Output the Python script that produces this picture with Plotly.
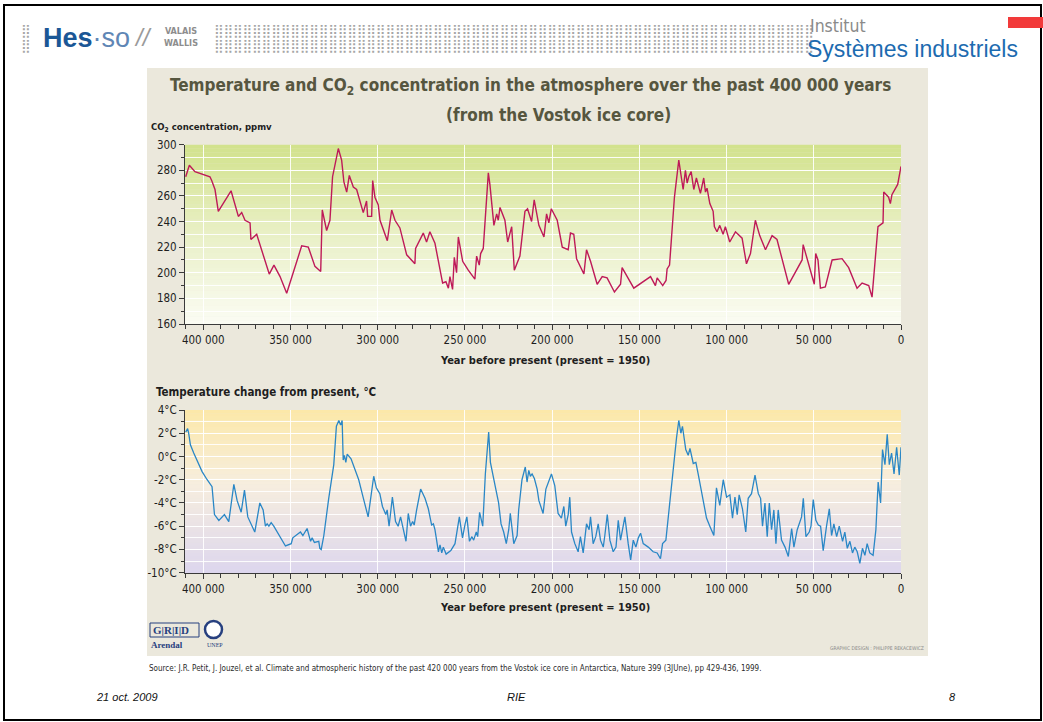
import plotly.graph_objects as go

# ---------------- data ----------------
co2_years = [410100, 408000, 404800, 400000, 396200, 395200, 393300, 391400, 384100, 379900,
             378000, 376100, 373200, 372700, 369400, 362200, 359500, 356000, 352200, 343600,
             339800, 336000, 332700, 331800, 329300, 327400, 325900, 322600, 320700, 319400,
             317800, 316300, 314000, 312100, 308300, 306400, 305800, 303500, 302900, 301600,
             299700, 298700, 294500, 292000, 290100, 287300, 283400, 278700, 278300, 273900,
             272000, 270100, 267200, 262800, 260900, 259500, 258600, 257100, 256100, 254800,
             253800, 251300, 248100, 244300, 243300, 241800, 241000, 239500, 236600, 235700,
             233400, 231800, 230900, 229900, 227100, 225500, 223200, 221700, 218500, 215600,
             214100, 211800, 210300, 207600, 204700, 203200, 201900, 200500, 197100, 194200,
             190800, 189500, 187600, 186000, 181800, 180300, 178000, 174200, 171300, 168500,
             164300, 160800, 159900, 153200, 143600, 140800, 139800, 136600, 134700, 134100,
             132700, 129900, 127400, 124900, 123600, 122600, 121700, 120300, 118800, 117300,
             115000, 113100, 112100, 111200, 109600, 107700, 107000, 105500, 103900, 102000,
             100700, 98200, 94900, 91100, 88600, 86300, 83500, 81000, 77700, 73900,
             71100, 64400, 56700, 56100, 51000, 49700, 48900, 47600, 46200, 43400,
             39500, 33800, 30000, 25200, 22300, 18500, 16600, 14100, 13200, 10300,
             9900, 7100, 6100, 5200, 1900, 0]
co2_ppmv = [275, 284, 279, 277, 275, 272, 265, 248, 264, 244,
            247, 241, 239, 226, 230, 199, 206, 197, 184, 221,
            220, 205, 201, 249, 233, 241, 275, 297, 288, 271,
            263, 276, 267, 265, 247, 256, 244, 244, 272, 259,
            253, 241, 225, 249, 241, 235, 214, 207, 219, 231,
            224, 232, 223, 192, 193, 188, 197, 187, 212, 200,
            228, 209, 202, 195, 213, 206, 215, 219, 278, 269,
            237, 246, 241, 251, 241, 224, 236, 202, 213, 248,
            250, 240, 257, 237, 228, 246, 239, 250, 241, 220,
            218, 231, 230, 211, 199, 218, 209, 191, 197, 196,
            185, 191, 204, 188, 197, 190, 196, 190, 194, 203,
            206, 259, 288, 265, 280, 270, 275, 279, 265, 274,
            262, 274, 263, 266, 254, 248, 236, 232, 237, 230,
            236, 224, 232, 227, 207, 215, 241, 229, 218, 229,
            226, 191, 210, 222, 197, 191, 215, 210, 188, 189,
            210, 211, 204, 188, 192, 190, 181, 218, 236, 239,
            263, 259, 254, 261, 269, 283]

temp_years = [410100, 409000, 408400, 407400, 405500, 402600, 400700, 397800, 395000, 393600,
              391100, 387900, 385400, 382500, 380600, 378300, 376400, 374500, 370500, 367600,
              365700, 364400, 363400, 362400, 361100, 359600, 352900, 349600, 348700, 344300,
              342900, 340500, 338500, 337600, 336300, 333800, 333200, 332400, 330900, 328100,
              325200, 323700, 322300, 321300, 320400, 319800, 319100, 318300, 317500, 315300,
              310900, 308400, 305500, 302300, 300800, 298800, 297300, 295400, 294600, 293500,
              291600, 289800, 288300, 286900, 285400, 283800, 282500, 281200, 280000, 279100,
              277700, 275400, 272900, 271000, 269100, 268100, 267200, 266200, 265200, 264300,
              263300, 262400, 260800, 258100, 255700, 253200, 251400, 249900, 248900, 247400,
              246000, 245000, 243500, 242700, 241600, 239800, 238300, 236400, 235400, 232600,
              230700, 229300, 227800, 226300, 224900, 224000, 223000, 222000, 220100, 219200,
              217300, 215400, 214400, 213400, 212500, 211500, 210200, 208600, 207600, 206300,
              205200, 203600, 201700, 200400, 198500, 196600, 194700, 193300, 192200, 190800,
              189900, 188900, 187000, 185100, 183800, 182200, 180300, 178800, 178000, 176500,
              175000, 173600, 172300, 170700, 169800, 168400, 166900, 165000, 163400, 162100,
              160800, 158300, 156400, 155000, 153500, 152000, 150600, 149300, 147800, 144900,
              142100, 139800, 137900, 136700, 134800, 132500, 130200, 128700, 127400, 126200,
              125300, 123400, 122000, 121000, 119100, 117600, 116300, 114900, 113400, 111500,
              109600, 107300, 105800, 103900, 101900, 100000, 98100, 96600, 95200, 93900,
              92800, 90900, 89000, 87600, 85700, 83700, 81800, 80500, 79400, 78000,
              76700, 75500, 74200, 72900, 71700, 70400, 68500, 66500, 64600, 62700,
              61400, 59500, 57000, 56000, 54500, 52600, 51600, 50300, 48800, 47400,
              46100, 44600, 42700, 41100, 39800, 38500, 36900, 35400, 33500, 32200,
              30800, 29300, 27800, 26500, 25100, 23600, 22100, 20700, 19400, 17900,
              16000, 14400, 13100, 11700, 10600, 9200, 7900, 6700, 5400, 4000,
              2500, 1000, 0]
temp_c = [2.1, 2.4, 2.0, 1.0, 0.3, -0.7, -1.3, -2.0, -2.6, -5.0,
          -5.5, -5.0, -5.6, -2.4, -3.8, -4.8, -2.9, -5.2, -6.5, -4.0,
          -4.6, -6.0, -5.8, -6.0, -5.7, -6.0, -7.7, -7.5, -7.0, -6.5,
          -6.8, -6.2, -7.3, -7.0, -7.4, -7.3, -7.9, -8.0, -6.8, -3.6,
          -0.7, 2.6, 3.1, 2.7, 3.1, -0.3, 0.1, -0.5, 0.2, -0.2,
          -2.0, -3.5, -5.2, -1.7, -2.7, -3.2, -4.3, -5.0, -4.6, -6.0,
          -3.5, -5.6, -6.0, -5.2, -6.2, -7.3, -4.9, -6.0, -5.6, -5.9,
          -4.6, -2.8, -3.6, -4.5, -5.9, -5.8, -6.3, -7.2, -8.2, -7.6,
          -8.3, -7.8, -8.4, -8.1, -7.5, -5.2, -7.0, -5.8, -5.2, -7.3,
          -6.9, -7.2, -6.5, -6.9, -4.8, -6.0, -1.5, 2.1, -0.5, -2.6,
          -4.0, -5.8, -6.5, -7.5, -6.3, -4.9, -6.5, -7.5, -6.8, -4.6,
          -2.0, -0.9, -2.2, -1.2, -1.7, -1.5, -1.9, -2.8, -3.8, -4.3,
          -4.9, -2.8, -2.0, -1.5, -2.5, -4.9, -5.3, -4.3, -6.0, -5.0,
          -3.5, -6.5, -7.5, -8.2, -6.9, -8.3, -5.8, -6.3, -5.2, -7.5,
          -6.9, -5.8, -7.2, -7.8, -6.8, -5.0, -7.2, -8.2, -7.8, -5.5,
          -7.2, -5.2, -7.5, -8.9, -7.2, -7.8, -7.0, -6.6, -7.5, -7.8,
          -8.2, -8.3, -8.8, -7.5, -7.2, -3.8, -0.3, 1.6, 3.1, 2.0,
          2.6, 0.6, 0.1, 0.7, -0.6, -0.5, -1.5, -2.7, -3.8, -5.3,
          -6.0, -6.8, -2.7, -4.2, -2.0, -3.5, -3.3, -5.3, -3.5, -5.0,
          -3.3, -4.5, -6.5, -3.6, -3.2, -1.6, -3.2, -3.6, -6.0, -4.0,
          -6.9, -4.0, -6.3, -4.6, -7.5, -4.6, -7.2, -7.8, -8.6, -6.2,
          -7.8, -6.3, -5.2, -3.6, -6.9, -6.5, -6.0, -3.7, -5.5, -5.9,
          -6.0, -8.1, -6.0, -4.5, -6.8, -5.8, -6.9, -6.0, -7.3, -6.5,
          -7.9, -7.3, -8.3, -7.8, -8.2, -9.2, -7.9, -8.5, -7.5, -8.3,
          -8.5, -6.3, -2.2, -4.0, 0.6, -0.7, 1.9, -0.7, 0.3, -1.5,
          0.8, -1.6, 0.8]

x_tickvals = [400000, 350000, 300000, 250000, 200000, 150000, 100000, 50000, 0]
x_ticktext = ["400 000", "350 000", "300 000", "250 000", "200 000", "150 000", "100 000", "50 000", "0"]
co2_tickvals = [160, 180, 200, 220, 240, 260, 280, 300]
temp_tickvals = [-10, -8, -6, -4, -2, 0, 2, 4]
temp_ticktext = ["-10°C", "-8°C", "-6°C", "-4°C", "-2°C", "0°C", "2°C", "4°C"]

# ---------------- geometry helpers (pixels -> paper) ----------------
W, H = 1043, 722
def px(x):
    return x / W
def py(y):
    return 1 - y / H

NARROW = "DejaVu Sans Condensed, Liberation Sans, Arial"
SANS = "Liberation Sans, Arial"

X0, X1 = 185, 901
CO2_TOP, CO2_BOT = 144.7, 324
T_TOP, T_BOT = 410, 572.7

fig = go.Figure()
fig.add_trace(go.Scatter(x=co2_years, y=co2_ppmv, mode="lines", xaxis="x", yaxis="y",
                         line=dict(color="#be1a58", width=1.4), showlegend=False, hoverinfo="skip"))
fig.add_trace(go.Scatter(x=temp_years, y=temp_c, mode="lines", xaxis="x2", yaxis="y2",
                         line=dict(color="#2a87c6", width=1.3), showlegend=False, hoverinfo="skip"))

axis_common = dict(showline=True, linecolor="#3a3a3a", linewidth=1, ticks="outside",
                   tickcolor="#3a3a3a", ticklen=5, tickwidth=1, zeroline=False,
                   gridcolor="rgba(255,255,255,0.9)", gridwidth=1, showgrid=True,
                   automargin=False,
                   tickfont=dict(family=NARROW, size=11.5, color="#1e1e1e"))

xcommon = dict(axis_common, range=[410500, 0], tickmode="array", tickvals=x_tickvals,
               ticktext=x_ticktext, domain=[px(X0), px(X1)],
               minor=dict(dtick=10000, tick0=0, ticks="outside", ticklen=4,
                          tickcolor="#3a3a3a", showgrid=False))

fig.update_layout(
    template="none",
    width=W, height=H, autosize=False,
    margin=dict(l=0, r=0, t=0, b=0, pad=0, autoexpand=False),
    showlegend=False,
    paper_bgcolor="white", plot_bgcolor="rgba(0,0,0,0)",
    xaxis=dict(xcommon, anchor="y"),
    xaxis2=dict(xcommon, anchor="y2"),
    yaxis=dict(axis_common, range=[160, 300], tickmode="array", tickvals=co2_tickvals,
               domain=[py(CO2_BOT), py(CO2_TOP)], anchor="x",
               minor=dict(dtick=10, tick0=0, ticks="outside", ticklen=3,
                          tickcolor="#3a3a3a", showgrid=True,
                          gridcolor="rgba(255,255,255,0.9)")),
    yaxis2=dict(axis_common, range=[-10, 4], tickmode="array", tickvals=temp_tickvals,
                ticktext=temp_ticktext, domain=[py(T_BOT), py(T_TOP)], anchor="x2",
                minor=dict(dtick=1, tick0=0, ticks="outside", ticklen=3,
                           tickcolor="#3a3a3a", showgrid=True,
                           gridcolor="rgba(255,255,255,0.9)")),
)

shapes = []
# slide frame
shapes.append(dict(type="rect", xref="paper", yref="paper", x0=px(4), x1=px(1041),
                   y0=py(720), y1=py(5), line=dict(color="black", width=2),
                   fillcolor="rgba(0,0,0,0)", layer="above"))
# red tab
shapes.append(dict(type="rect", xref="paper", yref="paper", x0=px(1008), x1=px(1043),
                   y0=py(28), y1=py(17), line=dict(width=0), fillcolor="#f23a3a"))
# beige panel
shapes.append(dict(type="rect", xref="paper", yref="paper", x0=px(147), x1=px(928),
                   y0=py(656), y1=py(68), line=dict(width=0), fillcolor="#ebe8dc", layer="below"))

def lerp(c1, c2, t):
    return tuple(round(a + (b - a) * t) for a, b in zip(c1, c2))

def gradient(top_px, bot_px, stops, n=48):
    for i in range(n):
        t = (i + 0.5) / n
        for j in range(len(stops) - 1):
            if stops[j][0] <= t <= stops[j + 1][0]:
                tt = (t - stops[j][0]) / (stops[j + 1][0] - stops[j][0])
                c = lerp(stops[j][1], stops[j + 1][1], tt)
                break
        ya = top_px + (bot_px - top_px) * i / n
        yb = top_px + (bot_px - top_px) * (i + 1) / n
        shapes.append(dict(type="rect", xref="paper", yref="paper", x0=px(X0), x1=px(X1),
                           y0=py(yb + 0.3), y1=py(ya), line=dict(width=0),
                           fillcolor="rgb(%d,%d,%d)" % c, layer="below"))

gradient(CO2_TOP, CO2_BOT, [(0, (210, 226, 140)), (0.5, (233, 240, 198)), (1, (251, 252, 244))])
gradient(T_TOP, T_BOT, [(0, (252, 232, 168)), (0.45, (247, 238, 222)), (1, (220, 214, 238))])

# GRID box and UNEP emblem
shapes.append(dict(type="rect", xref="paper", yref="paper", x0=px(150), x1=px(199),
                   y0=py(637), y1=py(623), line=dict(color="#27407f", width=1),
                   fillcolor="rgba(0,0,0,0)"))
shapes.append(dict(type="circle", xref="paper", yref="paper", x0=px(205), x1=px(222),
                   y0=py(638), y1=py(621), line=dict(color="#27407f", width=2.5),
                   fillcolor="white"))
fig.update_layout(shapes=shapes)

ann = []
def text(x, y, s, size, color="#1e1e1e", family=NARROW, xanchor="left", yanchor="middle"):
    ann.append(dict(x=px(x), y=py(y), xref="paper", yref="paper", text=s, showarrow=False,
                    xanchor=xanchor, yanchor=yanchor, borderpad=0,
                    font=dict(family=family, size=size, color=color)))

# header
DOTS = "#a5a5a5"
for yy in (30, 45.5):
    text(20, yy, "⣿", 13, DOTS, "DejaVu Sans")
    text(213, yy, "⣿" * 63, 13, DOTS, "DejaVu Sans")
text(42, 38, "<b>Hes</b><span style='color:#5f86b5'>·so</span>", 27, "#1b5796", SANS)
text(133, 38, "<i>//</i>", 24, "#9a9a9a", SANS)
text(163, 37, "<b>VALAIS<br>WALLIS</b>", 9, "#8d8d8d", NARROW)
text(809, 25.5, "Institut", 17.5, "#8a8a8a", NARROW)
text(806, 49.5, "Systèmes industriels", 23, "#1d6bb0", SANS)

# chart texts
TITLE = "#56563f"
text(530, 87, "<b>Temperature and CO<sub>2</sub> concentration in the atmosphere over the past 400 000 years</b>",
     17, TITLE, NARROW, "center")
text(558, 115, "<b>(from the Vostok ice core)</b>", 17, TITLE, NARROW, "center")
text(150, 128, "<b>CO<sub>2</sub> concentration, ppmv</b>", 9.5, "#1e1e1e", NARROW)
text(545, 360, "<b>Year before present (present = 1950)</b>", 11, "#1e1e1e", NARROW, "center")
text(155, 392, "<b>Temperature change from present, °C</b>", 11.5, "#1e1e1e", NARROW)
text(545, 607, "<b>Year before present (present = 1950)</b>", 11, "#1e1e1e", NARROW, "center")

# logos / credits
text(152, 630, "<b>G|R|I|D</b>", 11, "#27407f", "Liberation Serif, DejaVu Serif")
text(150, 645, "<b>Arendal</b>", 9, "#27407f", "Liberation Serif, DejaVu Serif")
text(206, 645, "UNEP", 6, "#27407f", "Liberation Serif, DejaVu Serif")
text(925, 648, "GRAPHIC DESIGN : PHILIPPE REKACEWICZ", 5, "#8a8a8a", NARROW, "right")
text(148, 668, "Source: J.R. Petit, J. Jouzel, et al. Climate and atmospheric history of the past 420 000 years "
     "from the Vostok ice core in Antarctica, Nature 399 (3JUne), pp 429-436, 1999.", 8, "#2a2a2a", NARROW)

# footer
text(95, 697, "<i>21 oct. 2009</i>", 11, "#111111", SANS)
text(516, 697, "<i>RIE</i>", 11, "#111111", SANS, "center")
text(952, 697, "<i>8</i>", 11, "#111111", SANS, "center")

fig.update_layout(annotations=ann)
fig.write_html(
    "out.html",
    config={"displayModeBar": False},
    post_script=("var s=document.createElement('style');"
                 "s.innerHTML='html,body{margin:0!important;padding:0!important;overflow:hidden!important;}';"
                 "document.head.appendChild(s);"),
)
